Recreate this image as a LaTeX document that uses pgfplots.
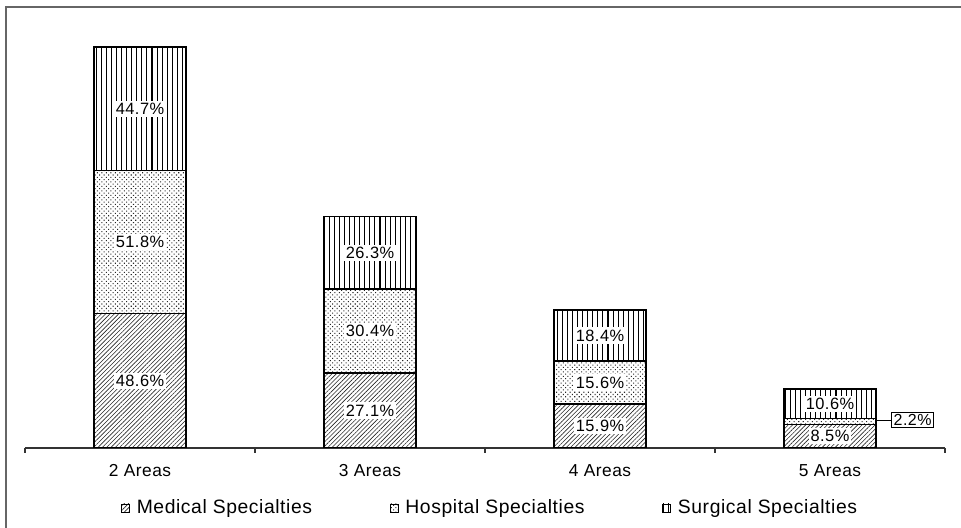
\documentclass[border=0pt]{standalone}
\usepackage{pgfplots}
\pgfplotsset{compat=1.18}
\usepackage{fontspec}
\setmainfont{Liberation Sans}[LetterSpace=3]
\usetikzlibrary{patterns,patterns.meta}
\tikzset{
  medpat/.style={pattern={Lines[angle=45,distance=2.3pt,line width=0.45pt]},pattern color=black!85},
  hospat/.style={pattern={Dots[radius=0.55pt,distance=2.4pt,angle=45]},pattern color=black!85},
  surpat/.style={pattern={Lines[angle=90,distance=3.8pt,line width=0.8pt]},pattern color=black},
}
\pgfplotsset{
  samegeom/.style={
    at={(18.75pt,60pt)}, anchor=south west,
    scale only axis, width=690pt, height=321.3pt,
    xmin=-0.5, xmax=3.5, ymin=0, ymax=155, enlargelimits=false,
  }
}
\begin{document}
\begin{tikzpicture}
\path[use as bounding box] (0,0) rectangle (720.75pt,396pt);
\draw[black!60, line width=1.1pt] (4.5pt,0) -- (4.5pt,390.75pt) -- (720.75pt,390.75pt);
\begin{axis}[
  samegeom,
  ybar stacked, bar width=0.4,
  axis x line=bottom, axis y line=none,
  x axis line style={-, black!80, line width=0.9pt},
  xtick={0,1,2,3},
  xticklabels={2 Areas,3 Areas,4 Areas,5 Areas},
  minor xtick={-0.5,0.5,1.5,2.5,3.5},
  xtick align=outside,
  major tick length=0pt, minor tick length=3.75pt,
  minor tick style={black!80, line width=0.9pt},
  xticklabel style={anchor=base, yshift=-21.75pt, font=\fontsize{13}{15}\selectfont},
  legend columns=3,
  legend style={draw=none, at={(rel axis cs:0.505,-0.14)}, anchor=center, font=\fontsize{14.5}{16}\selectfont,
    /tikz/every even column/.append style={column sep=55pt}},
  legend cell align=left,
  legend image code/.code={\draw[#1, line width=0.7pt] (1pt,-3pt) rectangle (7pt,3pt); \path (0pt,0pt) (10pt,0pt);},
]
\addplot[draw=black, line width=1pt, medpat] coordinates {(0,48.6) (1,27.1) (2,15.9) (3,8.5)};
\addplot[draw=black, line width=1pt, hospat] coordinates {(0,51.8) (1,30.4) (2,15.6) (3,2.2)};
\addplot[draw=black, line width=1pt, surpat] coordinates {(0,44.7) (1,26.3) (2,18.4) (3,10.6)};
\legend{Medical Specialties, Hospital Specialties, Surgical Specialties}
\draw[black, line width=0.7pt] (axis cs:3.2,10.1) -- (axis cs:3.265,10.1);
\node[draw=black, line width=0.9pt, fill=white, inner sep=1.6pt, font=\fontsize{12}{13}\selectfont, anchor=west] at (axis cs:3.265,10.1) {2.2\%};
\end{axis}
\begin{axis}[
  samegeom, hide axis,
  nodes near coords, point meta=explicit symbolic,
  every node near coord/.append style={anchor=center, fill=white, inner xsep=1.5pt, inner ysep=1.8pt, font=\fontsize{12.3}{13}\selectfont},
]
\addplot[only marks, mark=*, mark size=0pt, draw=none, fill=none] coordinates {
  (0,24.3)[48.6\%] (0,74.5)[51.8\%] (0,122.75)[44.7\%]
  (1,13.55)[27.1\%] (1,42.3)[30.4\%] (1,70.65)[26.3\%]
  (2,7.95)[15.9\%] (2,23.7)[15.6\%] (2,40.7)[18.4\%]
  (3,4.25)[8.5\%] (3,16.0)[10.6\%]
};
\end{axis}
\end{tikzpicture}
\end{document}
